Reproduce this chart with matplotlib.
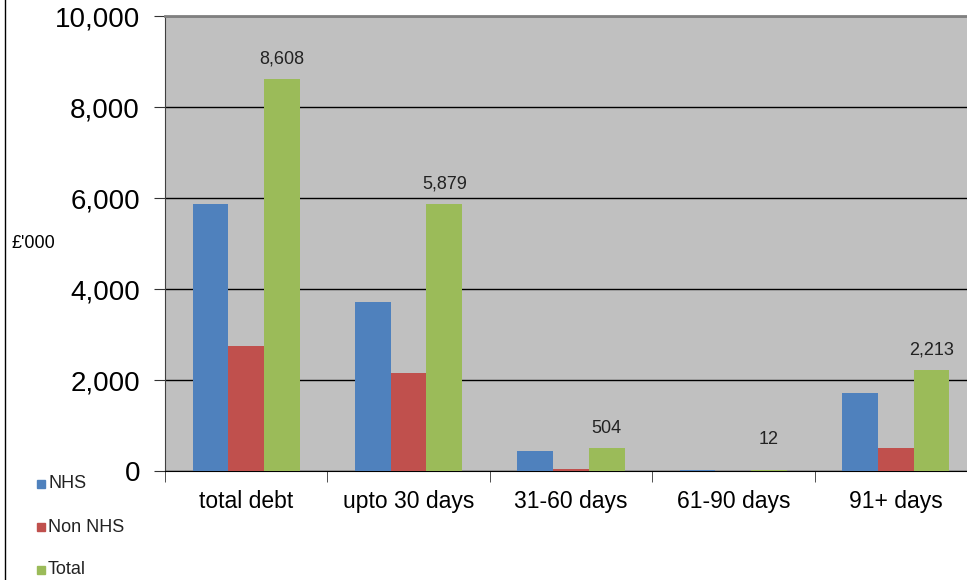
import matplotlib.pyplot as plt
import numpy as np
from matplotlib.lines import Line2D
from matplotlib.patches import Rectangle

categories = ["total debt", "upto 30 days", "31-60 days", "61-90 days", "91+ days"]
nhs = [5861, 3720, 440, 12, 1708]
non_nhs = [2747, 2159, 40, 0, 505]
total = [8608, 5879, 504, 12, 2213]
total_labels = ["8,608", "5,879", "504", "12", "2,213"]
yticks = [0, 2000, 4000, 6000, 8000, 10000]

blue, red, green = "#4F81BD", "#C0504D", "#9BBB59"

fig = plt.figure(figsize=(9.67, 5.8), dpi=100)
ax = fig.add_axes([0.1706, 0.1879, 0.8397, 0.7845])
ax.set_facecolor("#C0C0C0")

x = np.arange(len(categories))
w = 0.22
ax.bar(x - w, nhs, w, color=blue, label="NHS", zorder=3)
ax.bar(x, non_nhs, w, color=red, label="Non NHS", zorder=3)
bars = ax.bar(x + w, total, w, color=green, label="Total", zorder=3)

for b, lab in zip(bars, total_labels):
    ax.text(b.get_x() + b.get_width() / 2, max(b.get_height(), 250) + 250, lab,
            ha="center", va="bottom", fontsize=13, color="#222222",
            family="Liberation Sans")

ax.set_xlim(-0.5, len(categories) - 0.5)
ax.set_ylim(0, 10000)
ax.set_yticks(yticks)
ax.set_yticklabels([f"{v:,}" for v in yticks], fontsize=20, family="Liberation Sans")
ax.yaxis.grid(True, color="black", linewidth=1, zorder=1)
ax.set_axisbelow(True)

ax.set_xticks(x)
ax.set_xticklabels(categories, fontsize=16.5, family="Liberation Sans")
ax.tick_params(axis="x", which="major", length=0, pad=14)
ax.set_xticks(np.arange(len(categories) + 1) - 0.5, minor=True)
ax.tick_params(axis="x", which="minor", length=8, color="#333333")
ax.tick_params(axis="y", length=8, color="#333333", pad=10)

ax.spines["right"].set_visible(False)
ax.spines["top"].set_color("#808080")
ax.spines["top"].set_linewidth(2)
ax.spines["left"].set_color("#404040")
ax.spines["bottom"].set_color("black")

fig.text(0.012, 1 - 243 / 580, "£'000", fontsize=13, va="center",
         family="Liberation Sans")

# legend at lower left
for i, (lab, c) in enumerate(zip(["NHS", "Non NHS", "Total"], [blue, red, green])):
    yy = 1 - (484 + 43 * i) / 580
    fig.add_artist(Rectangle((37 / 967, yy - 4 / 580), 8 / 967, 8 / 580,
                             transform=fig.transFigure, color=c))
    fig.text(48 / 967, yy, lab, fontsize=13, va="center", family="Liberation Sans",
             color="#222222")

fig.add_artist(Line2D([5 / 967, 5 / 967], [0, 1], transform=fig.transFigure,
                      color="black", linewidth=1))

fig.savefig("out.png", dpi=100)
